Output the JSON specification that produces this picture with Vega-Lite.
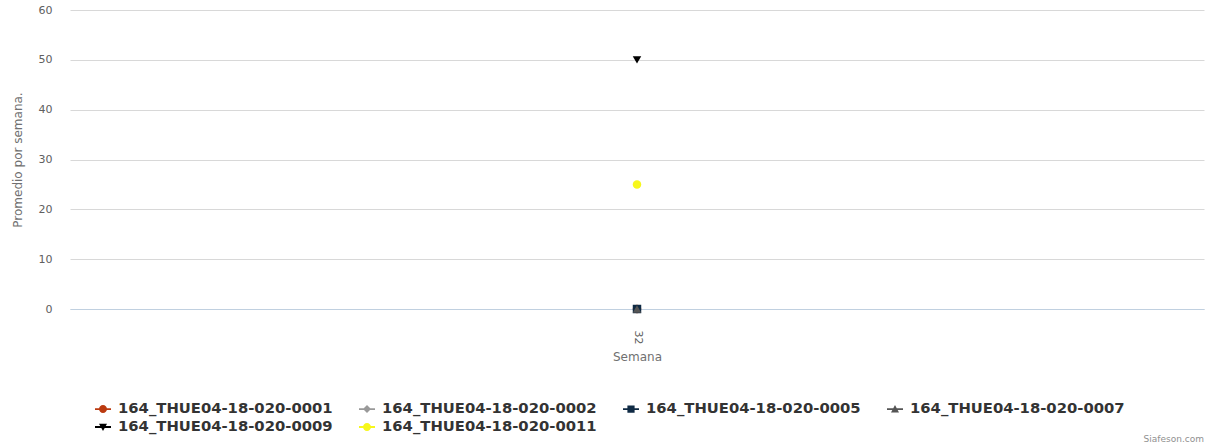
{
  "$schema": "https://vega.github.io/schema/vega-lite/v6.json",
  "width": 1134,
  "height": 299,
  "autosize": {"type": "none"},
  "padding": {"left": 70, "top": 10, "right": 11, "bottom": 137},
  "background": "#ffffff",
  "config": {
    "font": "DejaVu Sans",
    "view": {"stroke": null}
  },
  "title": {
    "text": "Siafeson.com",
    "orient": "bottom",
    "anchor": "end",
    "frame": "group",
    "offset": 1,
    "fontSize": 9,
    "fontWeight": "normal",
    "color": "#909090",
    "font": "DejaVu Sans"
  },
  "data": {
    "values": [
      {"serie": "164_THUE04-18-020-0001", "semana": "32", "promedio": 0},
      {"serie": "164_THUE04-18-020-0002", "semana": "32", "promedio": 0},
      {"serie": "164_THUE04-18-020-0005", "semana": "32", "promedio": 0},
      {"serie": "164_THUE04-18-020-0007", "semana": "32", "promedio": 0},
      {"serie": "164_THUE04-18-020-0009", "semana": "32", "promedio": 50},
      {"serie": "164_THUE04-18-020-0011", "semana": "32", "promedio": 25}
    ]
  },
  "encoding": {
    "x": {
      "field": "semana",
      "type": "ordinal",
      "scale": {"type": "point", "domain": ["32"]},
      "axis": {
        "title": "Semana",
        "titleFontSize": 12,
        "titleFontWeight": "normal",
        "titleColor": "#707070",
        "titlePadding": 8,
        "labelAngle": 90,
        "labelFontSize": 11,
        "labelColor": "#606060",
        "labelPadding": 21,
        "ticks": false,
        "tickSize": 0,
        "domainColor": "#C0D0E0",
        "domainWidth": 1,
        "grid": false
      }
    },
    "y": {
      "field": "promedio",
      "type": "quantitative",
      "scale": {"domain": [0, 60], "nice": false, "zero": true},
      "axis": {
        "title": "Promedio por semana.",
        "titleFontSize": 12,
        "titleFontWeight": "normal",
        "titleColor": "#707070",
        "titlePadding": 14,
        "values": [0, 10, 20, 30, 40, 50, 60],
        "labelFontSize": 11,
        "labelColor": "#606060",
        "labelPadding": 18,
        "ticks": false,
        "tickSize": 0,
        "domain": false,
        "grid": true,
        "gridColor": "#D8D8D8",
        "gridWidth": 1
      }
    }
  },
  "layer": [
    {
      "mark": {"type": "point", "filled": true, "opacity": 1, "size": 72},
      "encoding": {
        "color": {
          "field": "serie",
          "type": "nominal",
          "scale": {
            "domain": ["164_THUE04-18-020-0001", "164_THUE04-18-020-0002", "164_THUE04-18-020-0005", "164_THUE04-18-020-0007", "164_THUE04-18-020-0009", "164_THUE04-18-020-0011"],
            "range": ["#bb3a10", "#999999", "#0f2a44", "#555555", "#000000", "#f7f71c"]
          },
          "legend": null
        },
        "shape": {
          "field": "serie",
          "type": "nominal",
          "scale": {
            "domain": ["164_THUE04-18-020-0001", "164_THUE04-18-020-0002", "164_THUE04-18-020-0005", "164_THUE04-18-020-0007", "164_THUE04-18-020-0009", "164_THUE04-18-020-0011"],
            "range": ["circle", "diamond", "square", "triangle-up", "triangle-down", "circle"]
          },
          "legend": null
        }
      }
    },
    {
      "transform": [{"filter": "false"}],
      "mark": {"type": "point", "filled": true, "opacity": 1, "size": 72},
      "encoding": {
        "color": {
          "field": "serie",
          "type": "nominal",
          "scale": {
            "domain": ["164_THUE04-18-020-0001", "164_THUE04-18-020-0002", "164_THUE04-18-020-0005", "164_THUE04-18-020-0007", "164_THUE04-18-020-0009", "164_THUE04-18-020-0011"],
            "range": ["#bb3a10", "#999999", "#0f2a44", "#555555", "#000000", "#f7f71c"]
          },
          "legend": {
            "title": null,
            "orient": "none",
            "legendX": 25,
            "legendY": 391,
            "direction": "horizontal",
            "columns": 4,
            "columnPadding": 26,
            "rowPadding": 3,
            "padding": 0,
            "symbolSize": 256,
            "symbolStrokeWidth": 0,
            "symbolOpacity": 1,
            "labelOffset": 7,
            "labelFontSize": 14.8,
            "labelFontWeight": "bold",
            "labelColor": "#333333",
            "labelFont": "DejaVu Sans",
            "labelLimit": 400
          }
        },
        "shape": {
          "field": "serie",
          "type": "nominal",
          "scale": {
            "domain": ["164_THUE04-18-020-0001", "164_THUE04-18-020-0002", "164_THUE04-18-020-0005", "164_THUE04-18-020-0007", "164_THUE04-18-020-0009", "164_THUE04-18-020-0011"],
            "range": [
              "M-1,-0.12L1,-0.12L1,0.12L-1,0.12ZM-0.5,0A0.5,0.5 0 1,1 0.5,0A0.5,0.5 0 1,1 -0.5,0Z",
              "M-1,-0.12L1,-0.12L1,0.12L-1,0.12ZM0,-0.5L0.5,0L0,0.5L-0.5,0Z",
              "M-1,-0.12L1,-0.12L1,0.12L-1,0.12ZM-0.45,-0.45L0.45,-0.45L0.45,0.45L-0.45,0.45Z",
              "M-1,-0.12L1,-0.12L1,0.12L-1,0.12ZM0,-0.5L0.5,0.42L-0.5,0.42Z",
              "M-1,-0.12L1,-0.12L1,0.12L-1,0.12ZM0,0.5L-0.5,-0.42L0.5,-0.42Z",
              "M-1,-0.12L1,-0.12L1,0.12L-1,0.12ZM-0.5,0A0.5,0.5 0 1,1 0.5,0A0.5,0.5 0 1,1 -0.5,0Z"
            ]
          },
          "legend": null
        }
      }
    }
  ],
  "resolve": {
    "scale": {"shape": "independent", "color": "independent"},
    "legend": {"shape": "independent", "color": "independent"}
  }
}
